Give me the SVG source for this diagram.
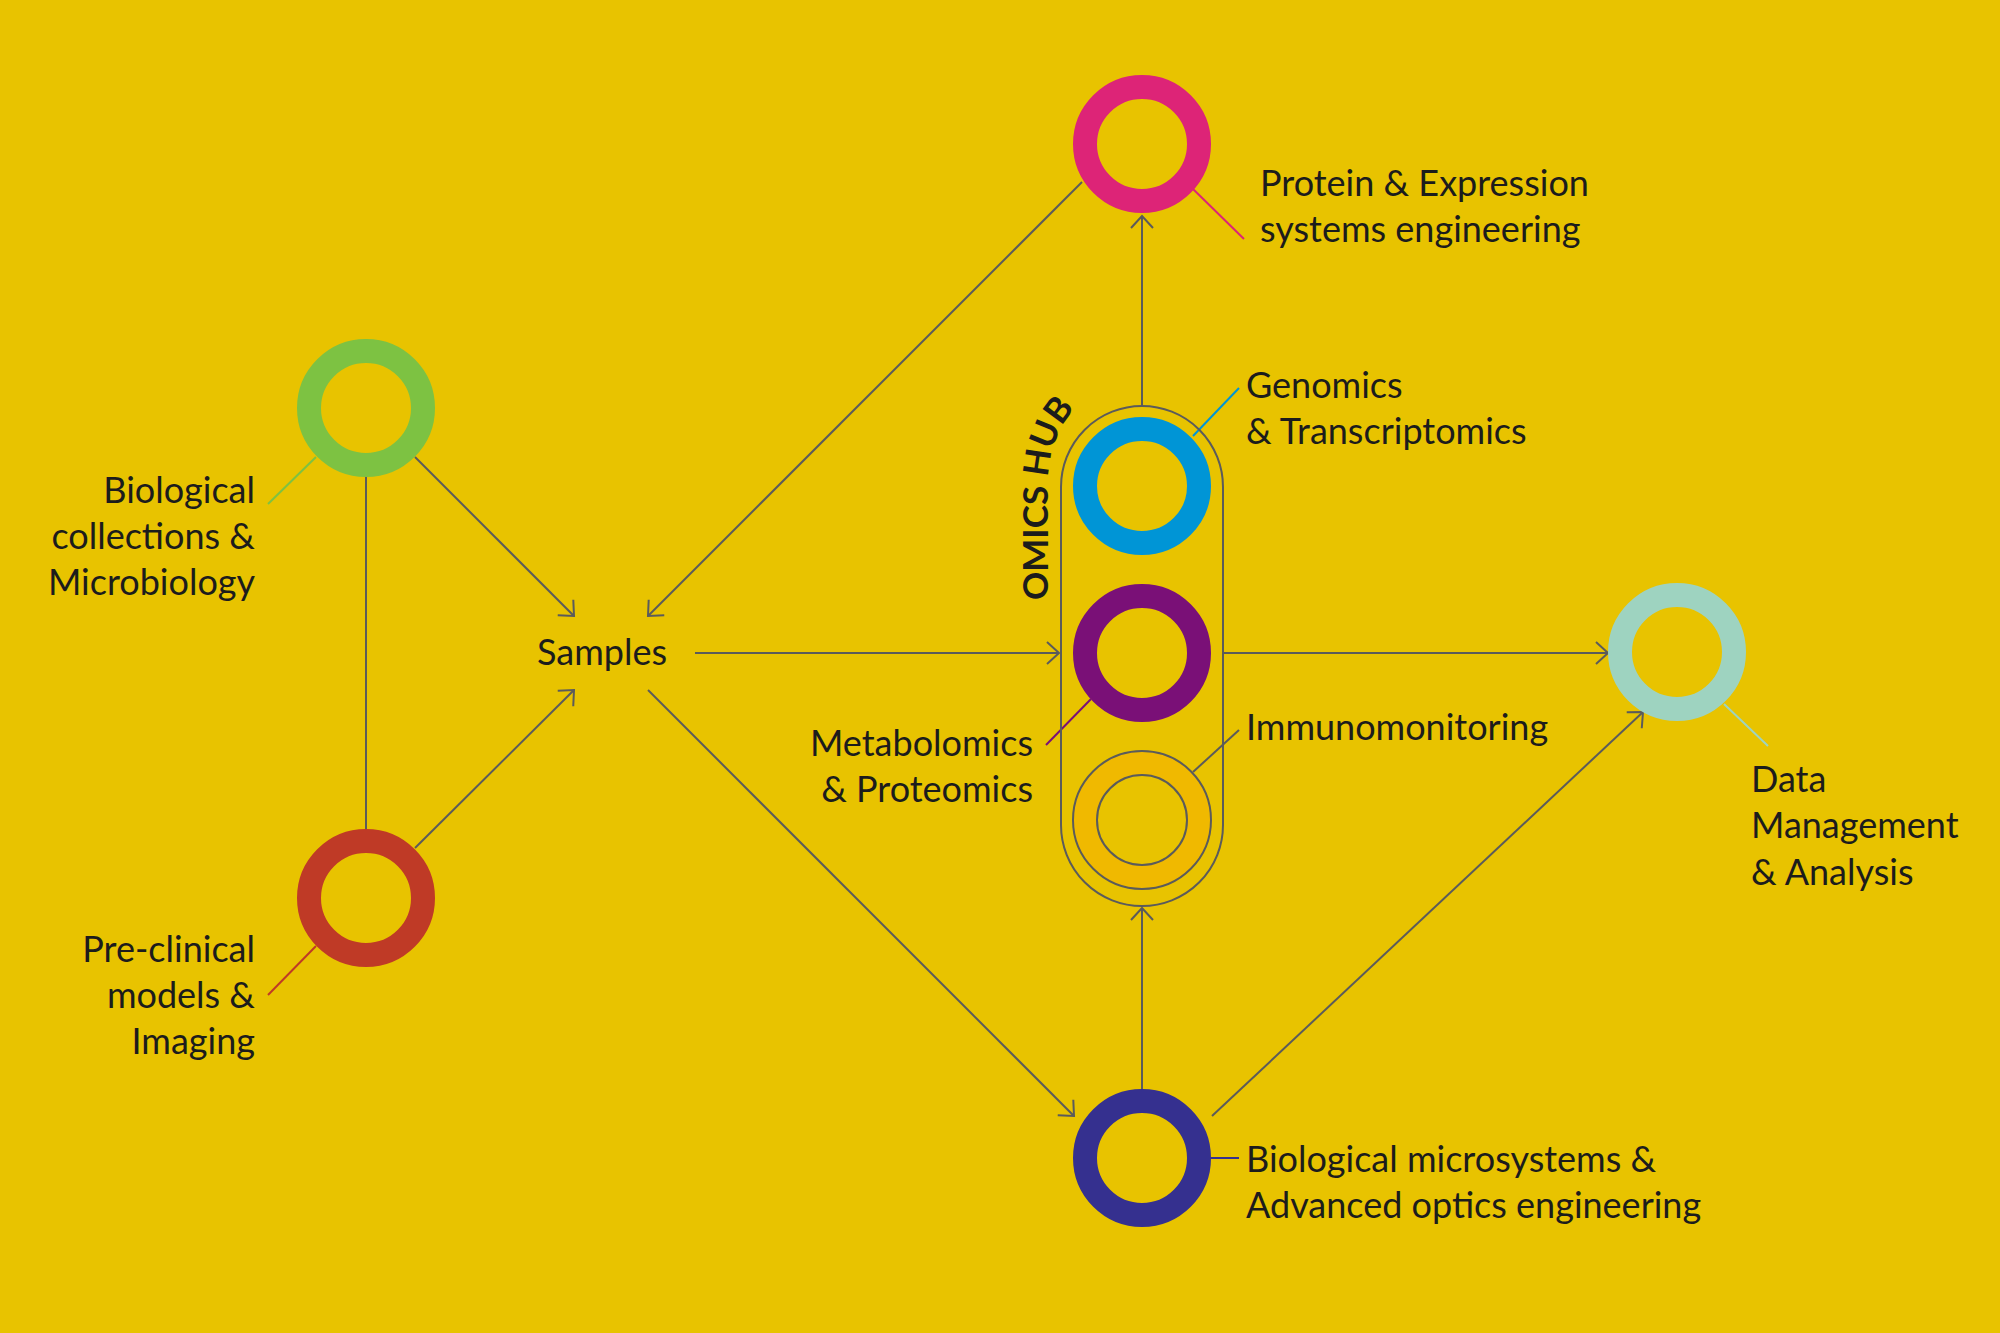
<svg xmlns="http://www.w3.org/2000/svg" width="2000" height="1333" viewBox="0 0 2000 1333">
<style>
.t{font-family:Lato,"Liberation Sans",sans-serif;font-size:36px;fill:#1c1c1c}
.r{text-anchor:end}
.c{stroke:#5b5b5b;stroke-width:2;fill:none}
.ring{fill:none;stroke-width:24}
</style>
<defs>
<marker id="a" markerUnits="userSpaceOnUse" markerWidth="30" markerHeight="30" refX="15" refY="15" orient="auto" viewBox="0 0 30 30">
<path d="M3,4 L15,15 L3,26" fill="none" stroke="#5b5b5b" stroke-width="2"/>
</marker>
<path id="hub" d="M1048,600 L1048,480 Q1050,420 1098,390"/>
</defs>
<rect width="2000" height="1333" fill="#e8c300"/>
<g id="connectors">
<line class="c" x1="366" y1="477" x2="366" y2="830"/>
<line class="c" x1="415" y1="457" x2="574" y2="616" marker-end="url(#a)"/>
<line class="c" x1="415" y1="848" x2="574" y2="690" marker-end="url(#a)"/>
<line class="c" x1="1082" y1="182" x2="648" y2="616" marker-end="url(#a)"/>
<line class="c" x1="695" y1="653" x2="1059" y2="653" marker-end="url(#a)"/>
<line class="c" x1="648" y1="690" x2="1074" y2="1116" marker-end="url(#a)"/>
<line class="c" x1="1142" y1="1090" x2="1142" y2="908" marker-end="url(#a)"/>
<line class="c" x1="1142" y1="406" x2="1142" y2="216" marker-end="url(#a)"/>
<line class="c" x1="1223" y1="653" x2="1608" y2="653" marker-end="url(#a)"/>
<line class="c" x1="1212" y1="1116" x2="1643" y2="712" marker-end="url(#a)"/>
<line x1="268" y1="504" x2="316" y2="457" stroke="#7dc242" stroke-width="2"/>
<line x1="268" y1="995" x2="316" y2="946" stroke="#bf3a26" stroke-width="2"/>
<line x1="1193" y1="189" x2="1244" y2="239" stroke="#dd2477" stroke-width="2"/>
<line x1="1193" y1="436" x2="1239" y2="388" stroke="#0095d6" stroke-width="2"/>
<line x1="1091" y1="699" x2="1046" y2="745" stroke="#7a1077" stroke-width="2"/>
<line x1="1193" y1="772" x2="1239" y2="730" stroke="#5b5b5b" stroke-width="2"/>
<line x1="1211" y1="1158" x2="1239" y2="1158" stroke="#35308f" stroke-width="2"/>
<line x1="1724" y1="704" x2="1768" y2="746" stroke="#9ed3c0" stroke-width="2"/>
</g>
<g id="omics-hub">
<rect x="1061" y="406" width="162" height="500" rx="81" class="c"/>
<text class="t" style="font-weight:bold;font-size:35px"><textPath href="#hub">OMICS HUB</textPath></text>
</g>
<g id="biological-collections">
<circle cx="366" cy="408" r="57" class="ring" stroke="#7dc242"/>
<text class="t r" x="255" y="503">Biological</text>
<text class="t r" x="255" y="549">collections &amp;</text>
<text class="t r" x="255" y="595">Microbiology</text>
</g>
<g id="pre-clinical">
<circle cx="366" cy="898" r="57" class="ring" stroke="#bf3a26"/>
<text class="t r" x="255" y="962">Pre-clinical</text>
<text class="t r" x="255" y="1008">models &amp;</text>
<text class="t r" x="255" y="1054">Imaging</text>
</g>
<g id="samples">
<text class="t" x="537" y="665">Samples</text>
</g>
<g id="protein">
<circle cx="1142" cy="144" r="57" class="ring" stroke="#dd2477"/>
<text class="t" x="1260" y="196">Protein &amp; Expression</text>
<text class="t" x="1260" y="242">systems engineering</text>
</g>
<g id="genomics">
<circle cx="1142" cy="486" r="57" class="ring" stroke="#0095d6"/>
<text class="t" x="1246" y="398">Genomics</text>
<text class="t" x="1246" y="444">&amp; Transcriptomics</text>
</g>
<g id="metabolomics">
<circle cx="1142" cy="653" r="57" class="ring" stroke="#7a1077"/>
<text class="t r" x="1033" y="756">Metabolomics</text>
<text class="t r" x="1033" y="802">&amp; Proteomics</text>
</g>
<g id="immunomonitoring">
<circle cx="1142" cy="820" r="57" fill="none" stroke="#f0b900" stroke-width="24"/>
<circle cx="1142" cy="820" r="69" class="c"/>
<circle cx="1142" cy="820" r="45" class="c"/>
<text class="t" x="1246" y="740">Immunomonitoring</text>
</g>
<g id="microsystems">
<circle cx="1142" cy="1158" r="57" class="ring" stroke="#35308f"/>
<text class="t" x="1246" y="1172">Biological microsystems &amp;</text>
<text class="t" x="1246" y="1218">Advanced optics engineering</text>
</g>
<g id="data">
<circle cx="1677" cy="652" r="57" class="ring" stroke="#9ed3c0"/>
<text class="t" x="1751" y="792">Data</text>
<text class="t" x="1751" y="838">Management</text>
<text class="t" x="1751" y="885">&amp; Analysis</text>
</g>
</svg>
